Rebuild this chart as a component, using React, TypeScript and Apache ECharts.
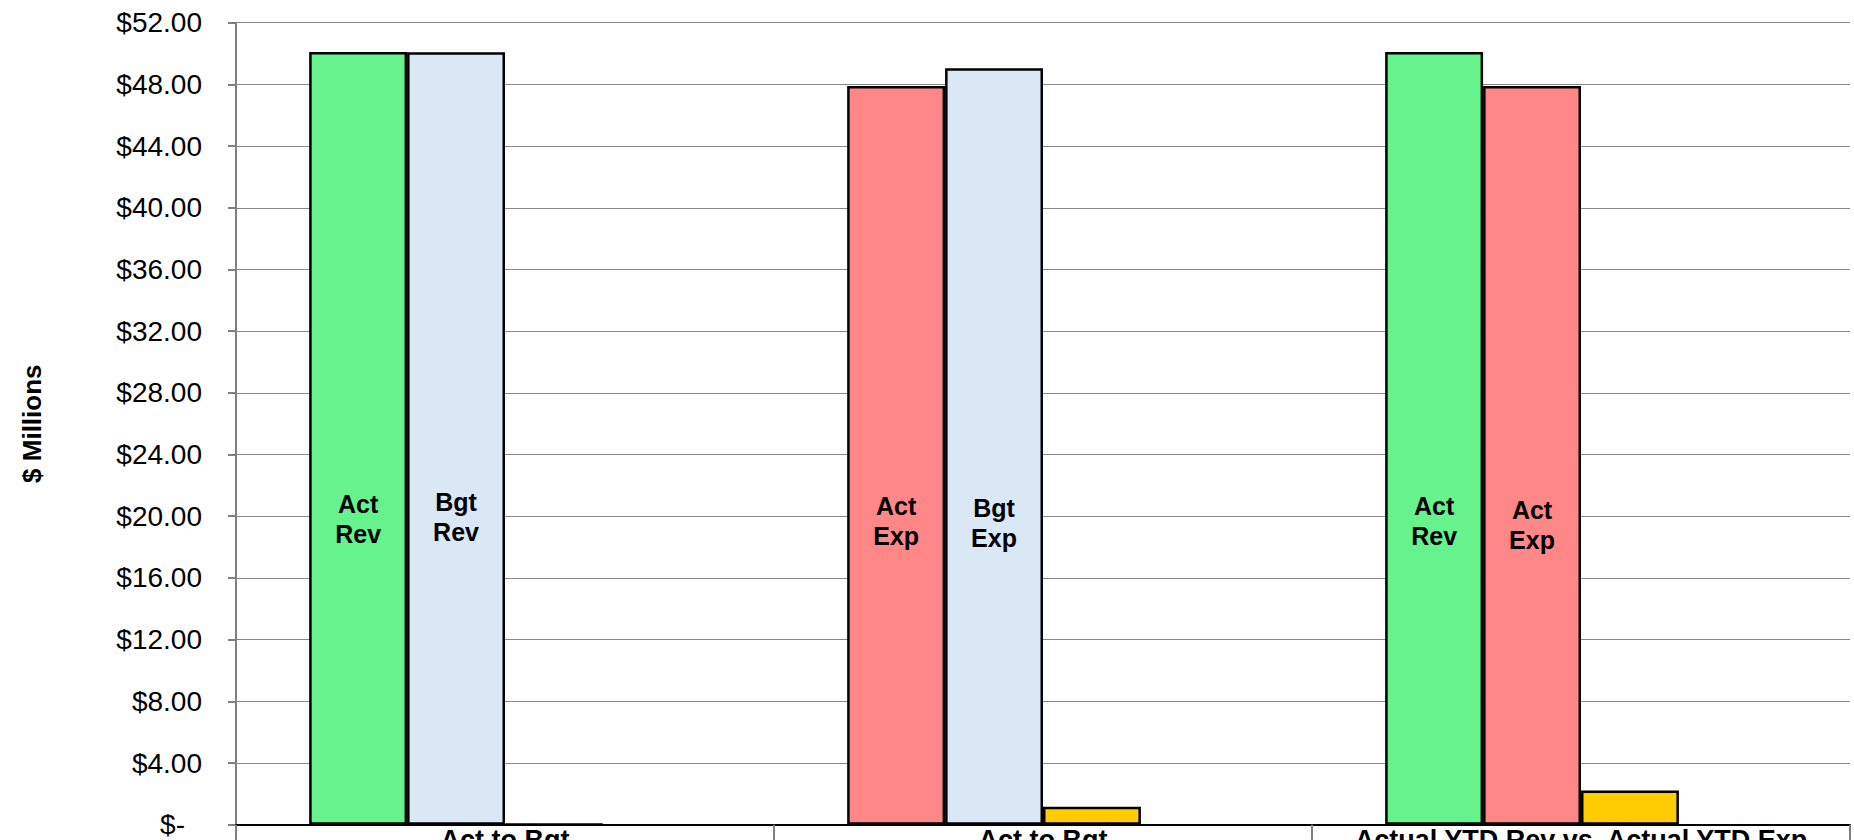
import React, { useEffect, useRef } from "react";
import * as echarts from "echarts";

const categories = ["Act to Bgt", "Act to Bgt", "Actual YTD Rev vs. Actual YTD Exp"];
const firstBarValues = [50.1, 47.9, 50.1];
const firstBarLabels = ["Act\nRev", "Act\nExp", "Act\nRev"];
const secondBarValues = [50.08, 49.05, 47.9];
const secondBarLabels = ["Bgt\nRev", "Bgt\nExp", "Act\nExp"];
const varianceValues = [0.03, 1.17, 2.22];
const emptySlotValues = [null, null, null];

const GREEN = "#66f28c";
const RED = "#ff8787";
const BLUE = "#dae7f5";
const YELLOW = "#ffcc00";
const firstBarColors = [GREEN, RED, GREEN];
const secondBarColors = [BLUE, BLUE, RED];
const firstLabelLift = [276, 274, 274];
const secondLabelLift = [278, 272, 270];

const FONT = "'Liberation Sans', Arial, sans-serif";

export default function App() {
  const ref = useRef<HTMLDivElement>(null);
  useEffect(() => {
    document.body.style.margin = "0";
    const chart = echarts.init(ref.current!, null, { renderer: "svg" });
    const barLabel = {
      show: true,
      position: "insideBottom",
      align: "center",
      fontFamily: FONT,
      fontWeight: "bold",
      fontSize: 25,
      lineHeight: 30,
      color: "#000",
    };
    const itemBorder = { borderColor: "#000", borderWidth: 2.5 };
    chart.setOption({
      animation: false,
      grid: { left: 236, right: 4, top: 22.7, bottom: 15.3, outerBoundsMode: "none" },
      xAxis: {
        type: "category",
        data: categories,
        axisLine: { lineStyle: { color: "#000", width: 2 } },
        axisTick: { show: true, length: 20, interval: 0, lineStyle: { color: "#808080", width: 2 } },
        axisLabel: {
          interval: 0,
          margin: 2,
          fontFamily: FONT,
          fontWeight: "bold",
          fontSize: 27,
          color: "#000",
        },
        z: 5,
      },
      yAxis: {
        type: "value",
        min: 0,
        max: 52,
        interval: 4,
        name: "$ Millions",
        nameLocation: "middle",
        nameRotate: 90,
        nameGap: 191,
        nameTextStyle: { fontFamily: FONT, fontWeight: "bold", fontSize: 26, color: "#000" },
        axisLine: { show: true, lineStyle: { color: "#808080", width: 2 } },
        axisTick: { show: true, length: 8, lineStyle: { color: "#808080", width: 2 } },
        splitLine: { show: true, lineStyle: { color: "#888888", width: 1 } },
        axisLabel: {
          margin: 34,
          fontFamily: FONT,
          fontSize: 28,
          color: "#000",
          formatter: (v: number) => (v === 0 ? "{z|$-}" : "$" + v.toFixed(2)),
          rich: { z: { fontFamily: FONT, fontSize: 28, color: "#000", padding: [0, 17, 0, 0] } },
        },
      },
      series: [
        {
          type: "bar",
          barGap: 0,
          barCategoryGap: "27.2%",
          data: firstBarValues.map((v, i) => ({
            value: v,
            itemStyle: { color: firstBarColors[i], ...itemBorder },
            label: { ...barLabel, distance: firstLabelLift[i], formatter: firstBarLabels[i] },
          })),
        },
        {
          type: "bar",
          barGap: 0,
          barCategoryGap: "27.2%",
          data: secondBarValues.map((v, i) => ({
            value: v,
            itemStyle: { color: secondBarColors[i], ...itemBorder },
            label: { ...barLabel, distance: secondLabelLift[i], formatter: secondBarLabels[i] },
          })),
        },
        {
          type: "bar",
          barGap: 0,
          barCategoryGap: "27.2%",
          itemStyle: { color: YELLOW, ...itemBorder },
          data: varianceValues,
        },
        {
          type: "bar",
          barGap: 0,
          barCategoryGap: "27.2%",
          data: emptySlotValues,
        },
      ],
    });
    return () => chart.dispose();
  }, []);
  return <div ref={ref} style={{ width: 1854, height: 840 }} />;
}
